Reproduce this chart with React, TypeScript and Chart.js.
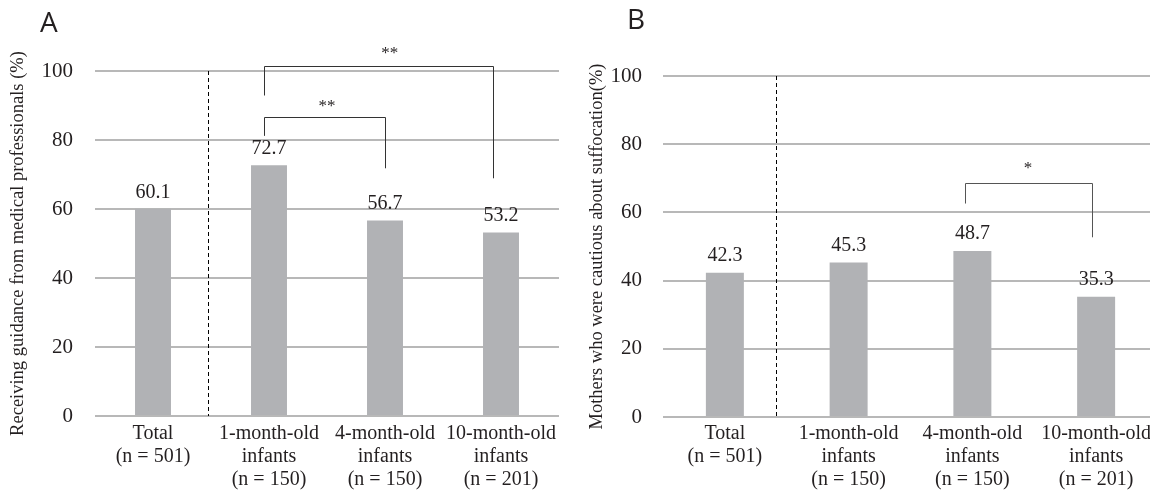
import React, { useEffect, useRef } from "react";
import { Chart, registerables } from "chart.js";

Chart.register(...registerables);

const categories: string[][] = [
  ["Total", "(n = 501)"],
  ["1-month-old", "infants", "(n = 150)"],
  ["4-month-old", "infants", "(n = 150)"],
  ["10-month-old", "infants", "(n = 201)"],
];
const guidanceValues = [60.1, 72.7, 56.7, 53.2];
const cautionValues = [42.3, 45.3, 48.7, 35.3];
const yMin = 0;
const yMax = 100;
const yStep = 20;
const titleA = "Receiving guidance from medical professionals (%)";
const titleB = "Mothers who were cautious about suffocation(%)";

// significance brackets in data coordinates (x = category index, y = value)
const bracketsA = [
  { x1: 0.96, x2: 2.93, top: 101.4, y1: 92.9, y2: 68.9, label: "**", lx: 2.04, ly: 105.1 },
  { x1: 0.96, x2: 2.0, top: 86.6, y1: 81.2, y2: 71.8, label: "**", lx: 1.5, ly: 89.7 },
];
const bracketsB = [
  { x1: 1.94, x2: 2.97, top: 68.6, y1: 62.6, y2: 52.7, label: "*", lx: 2.45, ly: 72.8 },
];
const dividerA = 0.474;
const dividerB = 0.41;

const SERIF = "'Liberation Serif', 'Times New Roman', serif";
const TEXT = "#231f20";
const BAR = "#b1b2b5";
const GRID = "#b8b8b8";

type Bracket = { x1: number; x2: number; top: number; y1: number; y2: number; label: string; lx: number; ly: number };

function makeAnnotations(brackets: Bracket[], divider: number, labelGap: number, bracketColor: string) {
  return {
    id: "annotations",
    afterDatasetsDraw(chart: any) {
      const ctx = chart.ctx;
      const xs = chart.scales.x;
      const ys = chart.scales.y;
      ctx.save();
      // divider dashed line
      const dx = Math.round(xs.getPixelForValue(divider)) + 0.5;
      ctx.strokeStyle = "#000";
      ctx.lineWidth = 1;
      ctx.setLineDash([4, 3]);
      ctx.beginPath();
      ctx.moveTo(dx, ys.getPixelForValue(yMax));
      ctx.lineTo(dx, ys.getPixelForValue(yMin));
      ctx.stroke();
      ctx.setLineDash([]);
      // value labels
      const meta = chart.getDatasetMeta(0);
      const data = chart.data.datasets[0].data as number[];
      ctx.fillStyle = TEXT;
      ctx.font = `20px ${SERIF}`;
      ctx.textAlign = "center";
      ctx.textBaseline = "alphabetic";
      meta.data.forEach((bar: any, i: number) => {
        ctx.fillText(data[i].toFixed(1), bar.x, bar.y - labelGap);
      });
      // brackets
      ctx.strokeStyle = bracketColor;
      ctx.lineWidth = 1;
      brackets.forEach((b) => {
        const px1 = Math.round(xs.getPixelForValue(b.x1)) + 0.5;
        const px2 = Math.round(xs.getPixelForValue(b.x2)) + 0.5;
        const pt = Math.round(ys.getPixelForValue(b.top)) + 0.5;
        ctx.beginPath();
        ctx.moveTo(px1, ys.getPixelForValue(b.y1));
        ctx.lineTo(px1, pt);
        ctx.lineTo(px2, pt);
        ctx.lineTo(px2, ys.getPixelForValue(b.y2));
        ctx.stroke();
        ctx.font = `17px ${SERIF}`;
        ctx.textBaseline = "middle";
        ctx.fillText(b.label, xs.getPixelForValue(b.lx), ys.getPixelForValue(b.ly));
      });
      ctx.restore();
    },
  };
}

function makeConfig(
  values: number[],
  title: string,
  opts: { padTop: number; padRight: number; yWidth: number; xHeight: number; tickPad: number; xPad: number; titlePad: number; titleSize: number; barPct: number },
  plugin: any
): any {
  return {
    type: "bar",
    data: {
      labels: categories,
      datasets: [
        {
          data: values,
          backgroundColor: BAR,
          borderWidth: 0,
          barPercentage: opts.barPct,
          categoryPercentage: 1,
        },
      ],
    },
    options: {
      responsive: false,
      animation: false,
      devicePixelRatio: 1,
      layout: { padding: { top: opts.padTop, right: opts.padRight, left: 0, bottom: 0 } },
      plugins: { legend: { display: false }, tooltip: { enabled: false } },
      scales: {
        x: {
          offset: true,
          grid: { display: false },
          border: { display: false },
          ticks: {
            color: TEXT,
            font: { family: SERIF, size: 20, lineHeight: 1.15 },
            padding: opts.xPad,
            maxRotation: 0,
            minRotation: 0,
            autoSkip: false,
          },
          afterFit: (s: any) => {
            s.height = opts.xHeight;
          },
        },
        y: {
          min: yMin,
          max: yMax,
          grid: { color: GRID, lineWidth: 2, drawTicks: false },
          border: { display: false },
          ticks: {
            stepSize: yStep,
            color: TEXT,
            font: { family: SERIF, size: 21 },
            padding: opts.tickPad,
          },
          title: {
            display: true,
            text: title,
            color: TEXT,
            font: { family: SERIF, size: opts.titleSize, lineHeight: 1.2 },
            padding: { top: opts.titlePad, bottom: 0 },
          },
          afterFit: (s: any) => {
            s.width = opts.yWidth;
          },
        },
      },
    },
    plugins: [plugin],
  };
}

export default function App() {
  const refA = useRef<HTMLCanvasElement>(null);
  const refB = useRef<HTMLCanvasElement>(null);

  useEffect(() => {
    const a = new Chart(
      refA.current!,
      makeConfig(
        guidanceValues,
        titleA,
        { padTop: 71, padRight: 6, yWidth: 95, xHeight: 76, tickPad: 22, xPad: -1.5, titlePad: 7, titleSize: 18.5, barPct: 0.31 },
        makeAnnotations(bracketsA, dividerA, 11, "#333")
      )
    );
    const b = new Chart(
      refB.current!,
      makeConfig(
        cautionValues,
        titleB,
        { padTop: 76, padRight: 2, yWidth: 103, xHeight: 75, tickPad: 21, xPad: -2.5, titlePad: 26, titleSize: 18.5, barPct: 0.307 },
        makeAnnotations(bracketsB, dividerB, 12, "#555")
      )
    );
    return () => {
      a.destroy();
      b.destroy();
    };
  }, []);

  const letter: React.CSSProperties = {
    position: "absolute",
    fontFamily: "'Open Sans', sans-serif",
    fontSize: 28,
    color: "#231f20",
    lineHeight: 1,
  };

  return (
    <div style={{ position: "fixed", left: 0, top: 0, width: 1150, height: 492, overflow: "hidden", background: "#fff" }}>
      <canvas ref={refA} width={565} height={492} style={{ position: "absolute", left: 0, top: 0, width: 565, height: 492 }} />
      <canvas ref={refB} width={600} height={492} style={{ position: "absolute", left: 560, top: 0, width: 600, height: 492 }} />
      <div style={{ ...letter, left: 40, top: 7 }}>A</div>
      <div style={{ ...letter, left: 627, top: 4 }}>B</div>
    </div>
  );
}
